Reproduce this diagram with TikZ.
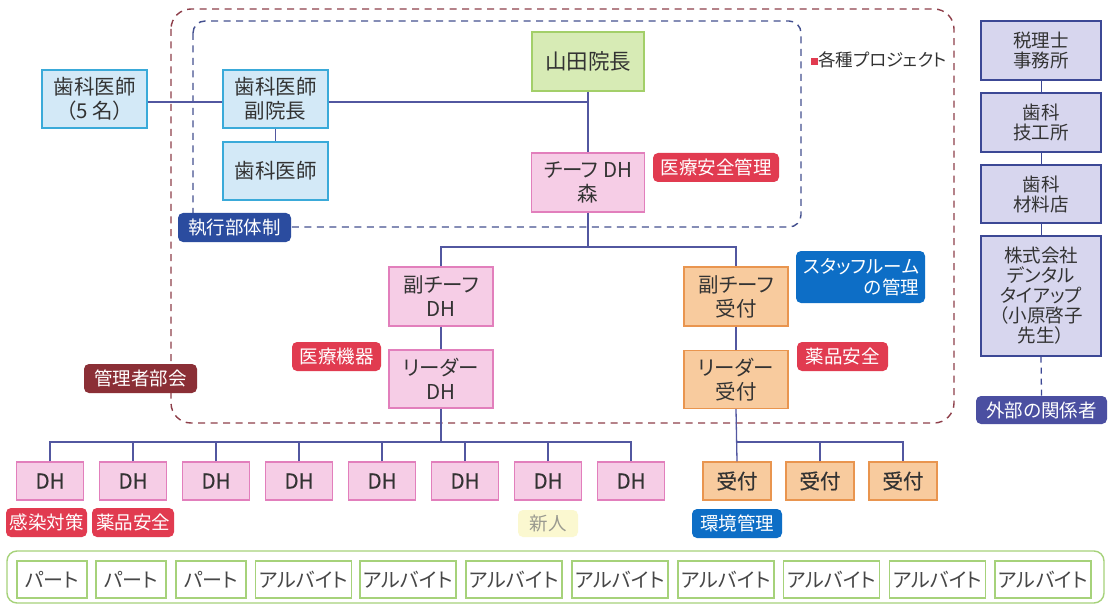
\documentclass[tikz,border=0pt]{standalone}
\usepackage{fontspec}
\setmainfont{Noto Sans CJK JP}[RawFeature={+palt}]
\newfontfamily\jpbold{Noto Sans CJK JP}[RawFeature={+palt},FakeBold=0.5]
\definecolor{linec}{HTML}{5257A0}
\definecolor{txt}{HTML}{333333}
\definecolor{dentf}{HTML}{D3E9F7}
\definecolor{dentd}{HTML}{3AAAD9}
\definecolor{grnf}{HTML}{D7EBB5}
\definecolor{grnd}{HTML}{A3CF69}
\definecolor{pinkf}{HTML}{F6CDE6}
\definecolor{pinkd}{HTML}{E27FBC}
\definecolor{orgf}{HTML}{F8CB9E}
\definecolor{orgd}{HTML}{E9954F}
\definecolor{extf}{HTML}{D7D6EE}
\definecolor{extd}{HTML}{3C4895}
\definecolor{tagred}{HTML}{E13B50}
\definecolor{tagblue}{HTML}{0D6EC6}
\definecolor{tagnavy}{HTML}{2B4C9F}
\definecolor{tagmaroon}{HTML}{8B2F36}
\definecolor{tagpurple}{HTML}{4B4FA1}
\definecolor{outerc}{HTML}{8E3F4A}
\definecolor{innerc}{HTML}{44508F}
\definecolor{partd}{HTML}{A6D27A}
\definecolor{shinf}{HTML}{FBF8D0}
\definecolor{shint}{HTML}{9A9A90}
\newcommand{\fsmain}{\fontsize{20.5}{24}\selectfont}
\newcommand{\fsext}{\fontsize{18.5}{20}\selectfont}
\newcommand{\fstag}{\fontsize{18.5}{21}\selectfont}
\newcommand{\fsdh}{\jpbold\fontsize{20.5}{22}\selectfont}
\newcommand{\fspart}{\fontsize{20}{22}\selectfont}
\tikzset{
  conn/.style={draw=linec, line width=1.3pt},
  basebox/.style={rectangle, inner sep=0pt, line width=1.4pt, text=txt, align=center, font=\fsmain},
  dentbox/.style={basebox, fill=dentf, draw=dentd},
  grnbox/.style={basebox, fill=grnf, draw=grnd},
  pinkbox/.style={basebox, fill=pinkf, draw=pinkd},
  orgbox/.style={basebox, fill=orgf, draw=orgd},
  extbox/.style={basebox, fill=extf, draw=extd, font=\fsext},
  dhbox/.style={basebox, fill=pinkf, draw=pinkd, font=\fsdh, minimum width=67pt, minimum height=38pt},
  ukbox/.style={basebox, fill=orgf, draw=orgd, font=\fsdh, minimum width=68pt, minimum height=38pt},
  tag/.style={rectangle, rounded corners=5pt, inner sep=0pt, text=white, font=\fstag, align=center, minimum height=29pt},
  partbox/.style={rectangle, inner sep=0pt, line width=1.3pt, draw=partd, fill=white, text=txt!90, font=\fspart, minimum height=37pt},
  outerdash/.style={draw=outerc, line width=1.4pt, dash pattern=on 7pt off 5.5pt, rounded corners=20pt},
  innerdash/.style={draw=innerc, line width=1.4pt, dash pattern=on 7pt off 5.5pt, rounded corners=12pt},
}
\begin{document}
\begin{tikzpicture}[x=1pt,y=-1pt]
\useasboundingbox (0,0) rectangle (1108,604);
\fill[white] (0,0) rectangle (1108,604);

% frames
\draw[outerdash] (171,9) rectangle (954,423);
\draw[innerdash] (193,21) rectangle (801,227);
\draw[draw=partd, line width=1.4pt, rounded corners=10pt, fill=white] (7,551) rectangle (1104,603);

% main nodes
\node[dentbox, minimum width=105pt, minimum height=58pt] (d5) at (94.5,99) {歯科医師\\（5 名）};
\node[dentbox, minimum width=105pt, minimum height=58pt] (fuku) at (275.5,99) {歯科医師\\副院長};
\node[dentbox, minimum width=105pt, minimum height=58pt] (dent) at (275.5,171) {歯科医師};
\node[grnbox, minimum width=112pt, minimum height=59pt, font=\fontsize{21.5}{24}\selectfont] (inchou) at (588,61.5) {山田院長};
\node[pinkbox, minimum width=113pt, minimum height=59pt] (chief) at (588,182.5) {チーフ DH\\森};
\node[pinkbox, minimum width=104pt, minimum height=59pt] (subdh) at (441,296.5) {副チーフ\\DH};
\node[pinkbox, minimum width=104pt, minimum height=58pt] (leaddh) at (441,379) {リーダー\\DH};
\node[orgbox, minimum width=104pt, minimum height=59pt] (subuk) at (736,296.5) {副チーフ\\受付};
\node[orgbox, minimum width=104pt, minimum height=58pt] (leaduk) at (736,379.5) {リーダー\\受付};

% tags
\node[tag, fill=tagred, minimum width=126pt] (anzen) at (716,167.5) {医療安全管理};
\node[tag, fill=tagred, minimum width=89pt] (kiki) at (336.5,356.5) {医療機器};
\node[tag, fill=tagmaroon, minimum width=113pt] (kanri) at (140.5,378.5) {管理者部会};
\node[tag, fill=tagnavy, minimum width=113pt] (shikko) at (234.5,227.5) {執行部体制};
\node[tag, fill=tagblue, minimum width=129pt, minimum height=52pt, align=right, text width=117pt] (staff) at (860.5,277) {スタッフルーム\\の管理};
\node[tag, fill=tagred, minimum width=91pt] (yaku1) at (842.5,356.5) {薬品安全};
\node[anchor=west, inner sep=0pt, text=txt, font=\fontsize{17.5}{20}\selectfont] (proj) at (811,60) {\textcolor{tagred}{\raisebox{1.5pt}{\rule{7pt}{7pt}}}各種プロジェクト};

% external
\node[extbox, minimum width=120pt, minimum height=59pt] (ext1) at (1041,50.5) {税理士\\事務所};
\node[extbox, minimum width=120pt, minimum height=59pt] (ext2) at (1041,122.5) {歯科\\技工所};
\node[extbox, minimum width=120pt, minimum height=58pt] (ext3) at (1041,194) {歯科\\材料店};
\node[extbox, minimum width=120pt, minimum height=120pt] (ext4) at (1041,296) {株式会社\\デンタル\\タイアップ\\（小原啓子\\先生）};
\node[tag, fill=tagpurple, minimum width=131pt, minimum height=28pt] (gaibu) at (1041.5,410) {外部の関係者};

% DH row
\foreach \i/\x in {1/50,2/133,3/216,4/299,5/382,6/465,7/548,8/631}{
  \node[dhbox] (dh\i) at (\x,481) {DH};
}
\foreach \i/\x in {1/737,2/820,3/903}{
  \node[ukbox] (uk\i) at (\x,481) {受付};
}
\node[tag, fill=tagred, minimum width=81pt] (kansen) at (46.5,522.5) {感染対策};
\node[tag, fill=tagred, minimum width=82pt] (yaku2) at (133,522.5) {薬品安全};
\node[tag, fill=shinf, text=shint, minimum width=60pt, minimum height=27pt] (shinjin) at (548,523.5) {新人};
\node[tag, fill=tagblue, minimum width=90pt] (kankyo) at (737,523.5) {環境管理};

% part-time row
\foreach \i/\x in {1/52,2/131,3/211}{
  \node[partbox, minimum width=70pt] (pt\i) at (\x,579.5) {パート};
}
\foreach \i/\x in {1/303.5,2/408,3/514,4/620,5/726,6/831.5,7/937.5,8/1043}{
  \node[partbox, minimum width=96pt] (ab\i) at (\x,579.5) {アルバイト};
}

% connectors
\coordinate (j0) at (588,102);
\coordinate (j1) at (588,247);
\coordinate (j2) at (441,442);
\coordinate (j3) at (737,442);
\begin{scope}[conn]
\draw ([yshift=-3pt]d5.east) -- ([yshift=-3pt]fuku.west);
\draw ([yshift=-3pt]fuku.east) -- (j0);
\draw (fuku.south) -- (dent.north);
\draw (inchou.south) -- (chief.north);
\draw (chief.south) -- (j1);
\draw (subdh.north) |- (j1) -| (subuk.north);
\draw (subdh.south) -- (leaddh.north);
\draw (subuk.south) -- (leaduk.north);
\draw (leaddh.south) -- (j2);
\draw (dh1.north) |- (j2) -| (dh8.north);
\foreach \i in {2,...,7}{ \draw (dh\i.north) -- (dh\i.north |- j2); }
\draw (leaduk.south) -- (uk1.north);
\draw (uk1.north |- j3) -| (uk3.north);
\draw (uk2.north) -- (uk2.north |- j3);
\end{scope}
\draw[draw=extd, line width=1pt] (ext1.south) -- (ext2.north);
\draw[draw=extd, line width=1pt] (ext2.south) -- (ext3.north);
\draw[draw=extd, line width=1pt] (ext3.south) -- (ext4.north);
\draw[draw=extd, line width=1.3pt, dash pattern=on 6pt off 5pt] (ext4.south) -- (gaibu.north);
\end{tikzpicture}
\end{document}
